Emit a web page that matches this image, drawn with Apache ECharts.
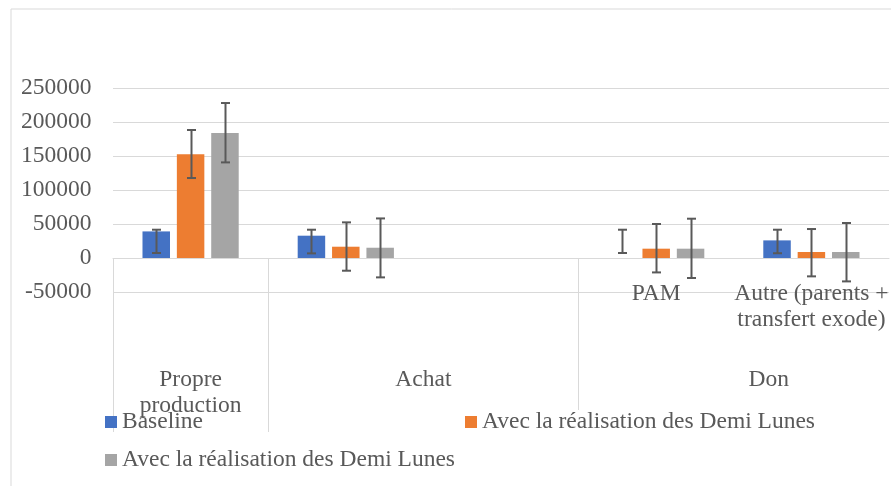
<!DOCTYPE html>
<html>
<head>
<meta charset="utf-8">
<script src="https://cdn.jsdelivr.net/npm/echarts@6/dist/echarts.min.js"></script>
<style>
html,body{margin:0;padding:0;background:#fff;}
#chart{width:891px;height:486px;}
</style>
</head>
<body>
<div id="chart"></div>
<script>
// ---- data ----
const subCategories = ['', '', '', 'PAM', 'Autre (parents +\ntransfert exode)'];
const groupLabels = ['Propre\nproduction', 'Achat', 'Don'];
const groupSpans = [1, 2, 2];
const seriesNames = ['Baseline', 'Avec la réalisation des Demi Lunes', 'Avec la réalisation des Demi Lunes'];
const baseline = [39100, 32800, null, 0, 25900];
const demiLunesA = [152400, 16600, null, 13700, 8800];
const demiLunesB = [183800, 15100, null, 13700, 8800];
const baselineLow = [7350, 6800, null, 7350, 7000];
const baselineHigh = [41600, 41600, null, 41600, 41600];
const demiLunesALow = [117600, -18700, null, -21200, -27000];
const demiLunesAHigh = [188200, 52400, null, 50000, 42600];
const demiLunesBLow = [140600, -28500, null, -29400, -34400];
const demiLunesBHigh = [227900, 58200, null, 57800, 51500];
const yTicks = [-50000, 0, 50000, 100000, 150000, 200000, 250000];

// ---- layout/style ----
const colors = ['#4472C4', '#ED7D31', '#A5A5A5'];
const FONT = 'Liberation Serif';
const FS = 23.5;
const TXT = '#595959';
const GRID = '#d9d9d9';
const CAT_GAP = 0.38, BAR_GAP = 0.25;

const values = [baseline, demiLunesA, demiLunesB];
const lows = [baselineLow, demiLunesALow, demiLunesBLow];
const highs = [baselineHigh, demiLunesAHigh, demiLunesBHigh];
const ids = ['s0', 's1', 's2'];

// group boundaries and centres from spans
const bounds = [0];
groupSpans.forEach(s => bounds.push(bounds[bounds.length - 1] + s));
const centers = groupSpans.map((s, i) => bounds[i] + s / 2);
const total = bounds[bounds.length - 1];

const series = [];
values.forEach((v, k) => {
  series.push({
    type: 'bar', name: ids[k], data: v,
    itemStyle: { color: colors[k] },
    barCategoryGap: (CAT_GAP * 100) + '%', barGap: (BAR_GAP * 100) + '%',
    xAxisIndex: 0, yAxisIndex: 0
  });
});
values.forEach((v, k) => {
  const d = [];
  v.forEach((_, i) => { if (lows[k][i] != null) d.push([i, lows[k][i], highs[k][i]]); });
  series.push({
    type: 'custom', xAxisIndex: 0, yAxisIndex: 0, z: 5,
    encode: { x: 0, y: [1, 2] },
    data: d,
    renderItem: function (params, api) {
      const n = 3;
      const band = api.size([1, 0])[0];
      const bw = band * (1 - CAT_GAP) / (n + (n - 1) * BAR_GAP);
      const off = (k - (n - 1) / 2) * bw * (1 + BAR_GAP);
      const p1 = api.coord([api.value(0), api.value(1)]);
      const p2 = api.coord([api.value(0), api.value(2)]);
      const x = Math.round(p1[0] + off) + 0.5;
      const cap = 4.5;
      const st = { stroke: '#595959', lineWidth: 2 };
      return {
        type: 'group',
        children: [
          { type: 'line', shape: { x1: x, y1: p1[1], x2: x, y2: p2[1] }, style: st },
          { type: 'line', shape: { x1: x - cap, y1: p1[1], x2: x + cap, y2: p1[1] }, style: st },
          { type: 'line', shape: { x1: x - cap, y1: p2[1], x2: x + cap, y2: p2[1] }, style: st }
        ]
      };
    }
  });
});

const legendText = { fontFamily: FONT, fontSize: FS, color: TXT };
const mkLegend = (k, left, top, bg) => ({
  data: [ids[k]], left: left, top: top, padding: 0, itemWidth: 12, itemHeight: 12,
  icon: 'rect', textStyle: legendText, backgroundColor: bg || 'transparent',
  formatter: () => seriesNames[k], selectedMode: false
});

const chart = echarts.init(document.getElementById('chart'), null, { renderer: 'canvas' });
chart.setOption({
  animation: false,
  backgroundColor: '#fff',
  color: colors,
  graphic: [{
    type: 'rect', left: 8.5, top: 6.5, shape: { width: 1000, height: 1000 },
    style: { fill: 'none', stroke: GRID, lineWidth: 1 }, silent: true, z: -10
  }],
  grid: { left: 113, top: 88, width: 781, height: 204, containLabel: false },
  legend: [
    mkLegend(0, 105, 410),
    mkLegend(1, 465, 410, '#fff'),
    mkLegend(2, 105, 448)
  ],
  xAxis: [{
    type: 'category', data: subCategories,
    axisLine: { onZero: true, onZeroAxisIndex: 0, lineStyle: { color: GRID } },
    axisTick: { show: false },
    axisLabel: { interval: 0, margin: -11, fontFamily: FONT, fontSize: FS, color: TXT, lineHeight: 26 },
    splitLine: { show: false }
  }, {
    type: 'value', min: 0, max: total, position: 'bottom',
    axisLine: { show: false, onZero: true, onZeroAxisIndex: 0 },
    axisTick: { show: true, customValues: bounds.slice(0, -1), length: 174, lineStyle: { color: GRID, width: 1 } },
    axisLabel: {
      customValues: centers, margin: 75, fontFamily: FONT, fontSize: FS, color: TXT, lineHeight: 26,
      formatter: function (val) {
        const i = centers.findIndex(c => Math.abs(c - val) < 1e-6);
        if (i < 0) return '';
        return i === groupLabels.length - 1 ? '{shift|' + groupLabels[i] + '}' : groupLabels[i];
      },
      rich: { shift: { fontFamily: FONT, fontSize: FS, color: TXT, lineHeight: 26, padding: [0, 0, 0, 70] } }
    },
    splitLine: { show: false }
  }],
  yAxis: {
    type: 'value', min: yTicks[0], max: yTicks[yTicks.length - 1], interval: yTicks[1] - yTicks[0],
    axisLine: { show: false }, axisTick: { show: false },
    axisLabel: { margin: 21.5, fontFamily: FONT, fontSize: FS, color: TXT, formatter: v => String(v) },
    splitLine: { lineStyle: { color: GRID, width: 1 } }
  },
  series: series
});
</script>
</body>
</html>
